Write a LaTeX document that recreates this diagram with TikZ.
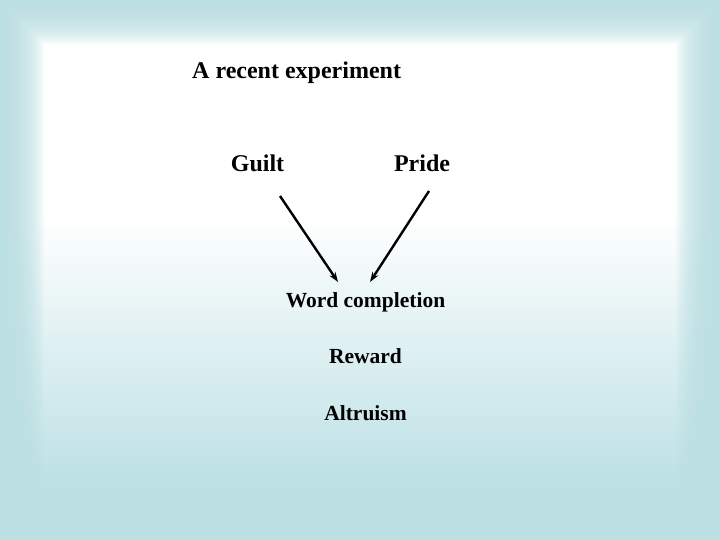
\documentclass[tikz,border=0pt]{standalone}
\usepackage{fontspec}
\setmainfont{Liberation Serif}
\usetikzlibrary{arrows.meta}
\definecolor{basecyan}{RGB}{188,224,228}
\tikzset{
  lbl/.style={inner sep=0pt, anchor=base, font=\bfseries\fontsize{24}{28}\selectfont},
  lblsmall/.style={inner sep=0pt, anchor=base, font=\bfseries\fontsize{21.5}{26}\selectfont},
  arr/.style={line width=2.4pt, -{Stealth[length=10pt,width=7pt]}},
  framestroke/.style={draw=basecyan, line join=miter}
}
\begin{document}
\begin{tikzpicture}[x=1pt,y=-1pt]
\useasboundingbox (0,0) rectangle (720,540);
% vertical gradient of the slide
\fill[white] (0,0) rectangle (720,216);
\shade[top color=white, bottom color=basecyan] (0,216) rectangle (720,486);
\fill[basecyan] (0,486) rectangle (720,540);
% soft frame around the edges
\foreach \hw in {12,14,...,44} {
  \draw[framestroke, line width=2*\hw, opacity=0.12] (0,0) rectangle (720,540);
}
\draw[framestroke, line width=20] (0,0) rectangle (720,540);
\node[lbl, anchor=base west] (title) at (192,79) {A recent experiment};
\node[lbl] (guilt) at (257.5,172) {Guilt};
\node[lbl] (pride) at (422,172) {Pride};
\node[lblsmall] (word) at (365.5,307) {Word completion};
\node[lblsmall] (reward) at (365.5,363) {Reward};
\node[lblsmall] (altruism) at (365.5,420) {Altruism};
\draw[arr] ([shift={(22.5,24)}]guilt.base) -- ([shift={(-27.5,-25)}]word.base);
\draw[arr] ([shift={(7,19)}]pride.base) -- ([shift={(4.5,-25)}]word.base);
\end{tikzpicture}
\end{document}
